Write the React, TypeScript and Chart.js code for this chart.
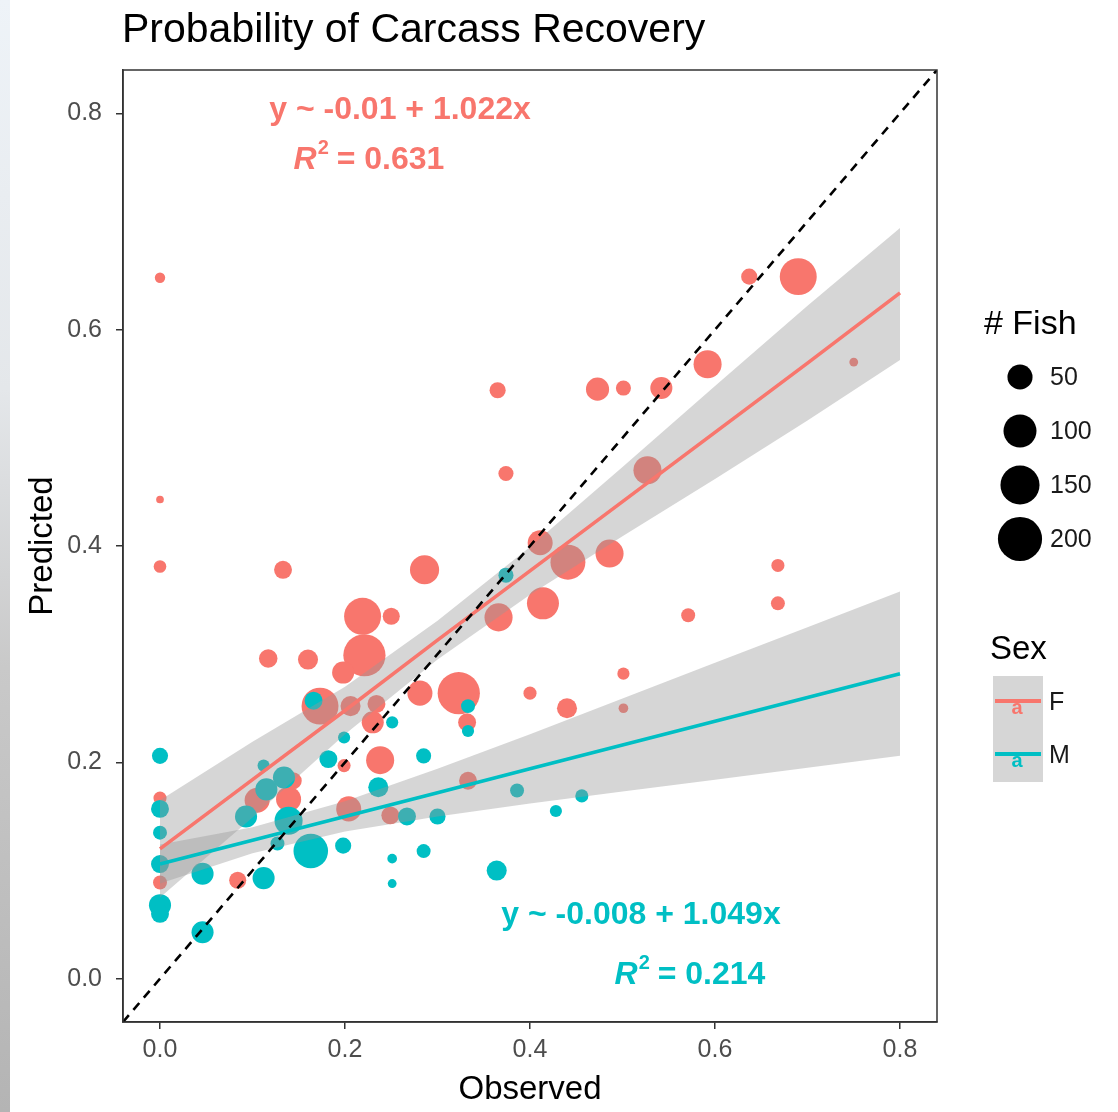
import React, { useEffect, useRef } from "react";
import { Chart, registerables } from "chart.js";

Chart.register(...registerables);

const W = 1118;
const H = 1112;
const FONT = '"Liberation Sans", Arial, Helvetica, sans-serif';
const COLOR_F = "#F8766D";
const COLOR_M = "#00BFC4";

const TITLE = "Probability of Carcass Recovery";
const X_TITLE = "Observed";
const Y_TITLE = "Predicted";
const SIZE_LEGEND_TITLE = "# Fish";
const SEX_LEGEND_TITLE = "Sex";

// Observed, Predicted, number of fish — Female
const femaleObserved = [0.000, 0.000, 0.000, 0.365, 0.374, 0.133, 0.286, 0.219, 0.250, 0.117, 0.160, 0.221, 0.198, 0.173, 0.206, 0.234, 0.230, 0.281, 0.323, 0.400, 0.332, 0.366, 0.414, 0.411, 0.441, 0.486, 0.668, 0.668, 0.571, 0.501, 0.440, 0.501, 0.592, 0.750, 0.473, 0.501, 0.542, 0.527, 0.637, 0.690, 0.000, 0.000, 0.084, 0.105, 0.139, 0.144, 0.199, 0.238, 0.204, 0.249, 0.333];
const femalePredicted = [0.648, 0.443, 0.381, 0.544, 0.467, 0.378, 0.378, 0.335, 0.335, 0.296, 0.295, 0.299, 0.283, 0.252, 0.252, 0.254, 0.237, 0.264, 0.264, 0.264, 0.237, 0.334, 0.347, 0.403, 0.385, 0.393, 0.382, 0.347, 0.336, 0.282, 0.250, 0.250, 0.568, 0.570, 0.545, 0.546, 0.546, 0.470, 0.649, 0.649, 0.167, 0.089, 0.091, 0.165, 0.166, 0.183, 0.197, 0.202, 0.157, 0.151, 0.183];
const femaleFish = [4, 1, 8, 17, 14, 23, 80, 140, 20, 25, 31, 190, 40, 140, 31, 23, 40, 55, 190, 9, 23, 73, 100, 55, 123, 73, 9, 11, 11, 7, 31, 3, 73, 2, 45, 14, 40, 73, 17, 140, 9, 11, 20, 55, 55, 20, 9, 73, 55, 23, 23];

// Observed, Predicted, number of fish — Male
const maleObserved = [0.000, 0.000, 0.000, 0.000, 0.000, 0.000, 0.046, 0.046, 0.093, 0.112, 0.115, 0.134, 0.112, 0.139, 0.163, 0.127, 0.198, 0.182, 0.236, 0.267, 0.300, 0.285, 0.285, 0.251, 0.251, 0.386, 0.428, 0.456, 0.364, 0.374, 0.166, 0.251, 0.333, 0.333, 0.199];
const malePredicted = [0.206, 0.157, 0.135, 0.106, 0.068, 0.060, 0.043, 0.097, 0.150, 0.093, 0.175, 0.186, 0.197, 0.146, 0.118, 0.125, 0.123, 0.203, 0.177, 0.150, 0.150, 0.206, 0.118, 0.111, 0.088, 0.174, 0.155, 0.169, 0.100, 0.373, 0.257, 0.237, 0.252, 0.229, 0.223];
const maleFish = [17, 23, 11, 23, 40, 23, 40, 40, 40, 40, 40, 40, 7, 73, 120, 11, 17, 23, 31, 23, 17, 14, 11, 3, 2, 11, 7, 9, 31, 14, 23, 7, 11, 7, 7];

// Fitted lines and confidence bands
const fitX = [0, 0.1, 0.2, 0.3, 0.4, 0.5, 0.6, 0.7, 0.8];
const femaleFit = [0.120, 0.184, 0.248, 0.313, 0.377, 0.441, 0.505, 0.569, 0.634];
const femaleUpper = [0.165, 0.219, 0.270, 0.331, 0.399, 0.473, 0.548, 0.622, 0.694];
const femaleLower = [0.075, 0.149, 0.226, 0.295, 0.355, 0.409, 0.462, 0.516, 0.572];
const maleFit = [0.106, 0.128, 0.150, 0.172, 0.194, 0.216, 0.238, 0.260, 0.282];
const maleUpper = [0.124, 0.140, 0.164, 0.194, 0.226, 0.259, 0.292, 0.325, 0.358];
const maleLower = [0.088, 0.116, 0.136, 0.150, 0.162, 0.173, 0.184, 0.195, 0.206];

const identityLine = [-0.04, 0.84];
const axisTicks = [0, 0.2, 0.4, 0.6, 0.8];
const sizeLegendValues = [50, 100, 150, 200];
const sexLevels = ["F", "M"];

const femaleEquation = "y ~ -0.01 + 1.022x";
const femaleR2 = "0.631";
const maleEquation = "y ~ -0.008 + 1.049x";
const maleR2 = "0.214";

const radiusFor = (n: number) => 2.5 + 1.35 * Math.sqrt(n);

const toPoints = (xs: number[], ys: number[], ns?: number[]) =>
  xs.map((x, i) => ({ x, y: ys[i], n: ns ? ns[i] : 0 }));

function drawR2(ctx: CanvasRenderingContext2D, value: string, cx: number, cy: number, color: string) {
  const fBig = `bold italic 32px ${FONT}`;
  const fSup = `bold 20px ${FONT}`;
  const fNorm = `bold 32px ${FONT}`;
  ctx.font = fBig;
  const wR = ctx.measureText("R").width;
  ctx.font = fSup;
  const w2 = ctx.measureText("2").width;
  ctx.font = fNorm;
  const rest = " = " + value;
  const wRest = ctx.measureText(rest).width;
  const total = wR + w2 + wRest;
  let x = cx - total / 2;
  ctx.fillStyle = color;
  ctx.textAlign = "left";
  ctx.textBaseline = "middle";
  ctx.font = fBig;
  ctx.fillText("R", x, cy);
  x += wR + 1;
  ctx.font = fSup;
  ctx.fillText("2", x, cy - 12);
  x += w2 - 1;
  ctx.font = fNorm;
  ctx.fillText(rest, x, cy);
}

const decorPlugin = {
  id: "decor",
  afterDraw(chart: any) {
    const ctx: CanvasRenderingContext2D = chart.ctx;
    const { left, right, top, bottom } = chart.chartArea;
    ctx.save();

    // panel border
    ctx.strokeStyle = "#333333";
    ctx.lineWidth = 1.5;
    ctx.strokeRect(left, top, right - left, bottom - top);

    // title
    ctx.fillStyle = "#000";
    ctx.textAlign = "left";
    ctx.textBaseline = "alphabetic";
    ctx.font = `41px ${FONT}`;
    ctx.fillText(TITLE, 122, 42);

    // axis titles
    ctx.font = `33px ${FONT}`;
    ctx.textAlign = "center";
    ctx.fillText(X_TITLE, (left + right) / 2, 1099);
    ctx.save();
    ctx.translate(52, (top + bottom) / 2);
    ctx.rotate(-Math.PI / 2);
    ctx.fillText(Y_TITLE, 0, 0);
    ctx.restore();

    // equations
    ctx.textBaseline = "middle";
    ctx.textAlign = "center";
    ctx.font = `bold 32px ${FONT}`;
    ctx.fillStyle = COLOR_F;
    ctx.fillText(femaleEquation, 400, 110);
    drawR2(ctx, femaleR2, 369, 160, COLOR_F);
    ctx.textAlign = "center";
    ctx.font = `bold 32px ${FONT}`;
    ctx.fillStyle = COLOR_M;
    ctx.fillText(maleEquation, 641, 915);
    drawR2(ctx, maleR2, 690, 975, COLOR_M);

    // size legend
    ctx.fillStyle = "#000";
    ctx.textAlign = "left";
    ctx.textBaseline = "middle";
    ctx.font = `34px ${FONT}`;
    ctx.fillText(SIZE_LEGEND_TITLE, 984, 325);
    const sizeY = [377, 431, 485, 539];
    ctx.font = `25px ${FONT}`;
    sizeLegendValues.forEach((v, i) => {
      ctx.beginPath();
      ctx.fillStyle = "#000";
      ctx.arc(1020, sizeY[i], radiusFor(v) + 0.5, 0, Math.PI * 2);
      ctx.fill();
      ctx.fillStyle = "#1a1a1a";
      ctx.fillText(String(v), 1050, sizeY[i] + 1);
    });

    // sex legend
    ctx.fillStyle = "#000";
    ctx.font = `33px ${FONT}`;
    ctx.fillText(SEX_LEGEND_TITLE, 990, 650);
    const keyY = [703, 756];
    const colors = [COLOR_F, COLOR_M];
    sexLevels.forEach((s, i) => {
      const y = keyY[i];
      ctx.fillStyle = "#D6D6D6";
      ctx.fillRect(993, y - 27, 50, 53);
      ctx.strokeStyle = colors[i];
      ctx.lineWidth = 4;
      ctx.beginPath();
      ctx.moveTo(995, y - 2);
      ctx.lineTo(1041, y - 2);
      ctx.stroke();
      ctx.fillStyle = colors[i];
      ctx.font = `bold 20px ${FONT}`;
      ctx.textAlign = "center";
      ctx.fillText("a", 1017, y + 5);
      ctx.textAlign = "left";
      ctx.fillStyle = "#1a1a1a";
      ctx.font = `25px ${FONT}`;
      ctx.fillText(s, 1049, y);
    });

    ctx.restore();
  },
};

export default function App() {
  const canvasRef = useRef<HTMLCanvasElement | null>(null);

  useEffect(() => {
    const canvas = canvasRef.current;
    if (!canvas) return;

    const ribbonStyle = {
      type: "line" as const,
      borderWidth: 0,
      pointRadius: 0,
      backgroundColor: "rgba(153,153,153,0.4)",
      borderColor: "rgba(0,0,0,0)",
    };

    const chart = new Chart(canvas, {
      type: "scatter",
      data: {
        datasets: [
          {
            type: "scatter",
            label: "F points",
            data: toPoints(femaleObserved, femalePredicted, femaleFish),
            backgroundColor: COLOR_F,
            borderWidth: 0,
            pointRadius: (c: any) => radiusFor(c.raw.n),
            order: 8,
          } as any,
          {
            type: "scatter",
            label: "M points",
            data: toPoints(maleObserved, malePredicted, maleFish),
            backgroundColor: COLOR_M,
            borderWidth: 0,
            pointRadius: (c: any) => radiusFor(c.raw.n),
            order: 7,
          } as any,
          {
            ...ribbonStyle,
            label: "F upper",
            data: toPoints(fitX, femaleUpper),
            fill: false,
            order: 6,
          },
          {
            ...ribbonStyle,
            label: "F lower",
            data: toPoints(fitX, femaleLower),
            fill: "-1",
            order: 5,
          },
          {
            ...ribbonStyle,
            label: "M upper",
            data: toPoints(fitX, maleUpper),
            fill: false,
            order: 4,
          },
          {
            ...ribbonStyle,
            label: "M lower",
            data: toPoints(fitX, maleLower),
            fill: "-1",
            order: 3,
          },
          {
            type: "line",
            label: "F fit",
            data: toPoints(fitX, femaleFit),
            borderColor: COLOR_F,
            borderWidth: 3.6,
            pointRadius: 0,
            fill: false,
            order: 2,
          },
          {
            type: "line",
            label: "M fit",
            data: toPoints(fitX, maleFit),
            borderColor: COLOR_M,
            borderWidth: 3.6,
            pointRadius: 0,
            fill: false,
            order: 1,
          },
          {
            type: "line",
            label: "1:1",
            data: toPoints(identityLine, identityLine),
            borderColor: "#000",
            borderWidth: 2.6,
            borderDash: [9, 7],
            pointRadius: 0,
            fill: false,
            order: 0,
          },
        ] as any,
      },
      options: {
        responsive: false,
        animation: false,
        devicePixelRatio: 1,
        layout: { padding: { top: 70, right: 181, left: 0, bottom: 0 } },
        plugins: {
          legend: { display: false },
          title: { display: false },
          tooltip: { enabled: false },
        },
        scales: {
          x: {
            type: "linear",
            min: -0.04,
            max: 0.84,
            afterBuildTicks: (axis: any) => {
              axis.ticks = axisTicks.map((v) => ({ value: v }));
            },
            afterFit: (s: any) => {
              s.height = 90;
            },
            ticks: {
              font: { family: FONT, size: 25 },
              color: "#4D4D4D",
              padding: 6,
              maxRotation: 0,
              callback: (v: any) => Number(v).toFixed(1),
            },
            grid: {
              drawOnChartArea: false,
              drawTicks: true,
              tickLength: 7,
              color: "#333333",
              lineWidth: 1.5,
            },
            border: { display: true, color: "#333333", width: 1.5 },
          },
          y: {
            type: "linear",
            min: -0.04,
            max: 0.84,
            afterBuildTicks: (axis: any) => {
              axis.ticks = axisTicks.map((v) => ({ value: v }));
            },
            afterFit: (s: any) => {
              s.width = 123;
            },
            ticks: {
              font: { family: FONT, size: 25 },
              color: "#4D4D4D",
              padding: 14,
              callback: (v: any) => Number(v).toFixed(1),
            },
            grid: {
              drawOnChartArea: false,
              drawTicks: true,
              tickLength: 7,
              color: "#333333",
              lineWidth: 1.5,
            },
            border: { display: true, color: "#333333", width: 1.5 },
          },
        },
      },
      plugins: [decorPlugin],
    });

    return () => chart.destroy();
  }, []);

  return (
    <div style={{ position: "fixed", left: 0, top: 0, width: W, height: H, background: "#fff", overflow: "hidden" }}>
      <div
        style={{
          position: "absolute",
          left: 0,
          top: 0,
          width: 10,
          height: H,
          background: "linear-gradient(to bottom, #EEF3F8 0%, #E4E7EA 35%, #C9C9C9 60%, #B4B4B4 100%)",
        }}
      />
      <canvas ref={canvasRef} width={W} height={H} style={{ display: "block", width: W, height: H }} />
    </div>
  );
}
